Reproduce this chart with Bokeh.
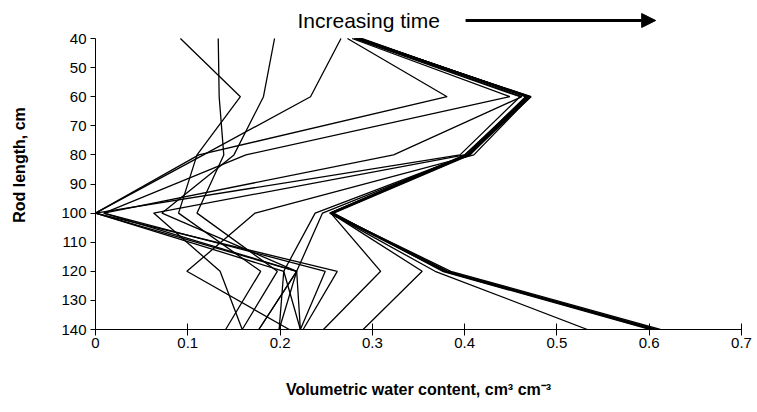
from bokeh.plotting import figure
from bokeh.models import Range1d, Label, Arrow, NormalHead, FixedTicker, NumeralTickFormatter
from bokeh.embed import file_html
from bokeh.resources import INLINE

# Rod lengths (cm) at which water content was measured
rod_length = [40, 60, 80, 100, 120, 140]

# Volumetric water content profiles (cm3 cm-3), one list per measurement time
t01 = [0.092, 0.157, 0.110, 0.090, 0.179, 0.141]
t02 = [0.133, 0.134, 0.139, 0.110, 0.197, 0.159]
t03 = [0.194, 0.182, 0.150, 0.072, 0.218, 0.199]
t04 = [0.266, 0.233, 0.117, 0.000, 0.218, 0.177]
t05 = [0.273, 0.381, 0.112, 0.000, 0.204, 0.199]
t06 = [0.278, 0.449, 0.163, 0.009, 0.249, 0.222]
t07 = [0.280, 0.460, 0.395, 0.000, 0.262, 0.225]
t08 = [0.282, 0.462, 0.323, 0.009, 0.218, 0.177]
t09 = [0.284, 0.470, 0.400, 0.063, 0.135, 0.159]
t10 = [0.286, 0.471, 0.410, 0.173, 0.099, 0.210]
t11 = [0.285, 0.469, 0.404, 0.238, 0.204, 0.222]
t12 = [0.287, 0.470, 0.403, 0.246, 0.218, 0.222]
t13 = [0.285, 0.468, 0.404, 0.255, 0.309, 0.247]
t14 = [0.287, 0.470, 0.403, 0.255, 0.354, 0.290]
t15 = [0.284, 0.467, 0.400, 0.254, 0.368, 0.533]
t16 = [0.283, 0.472, 0.405, 0.255, 0.385, 0.612]
t17 = [0.285, 0.470, 0.404, 0.256, 0.382, 0.608]
t18 = [0.287, 0.468, 0.403, 0.257, 0.380, 0.605]
t19 = [0.289, 0.466, 0.402, 0.254, 0.378, 0.603]
t20 = [0.281, 0.469, 0.406, 0.258, 0.376, 0.601]

profiles = [t01, t02, t03, t04, t05, t06, t07, t08, t09, t10,
            t11, t12, t13, t14, t15, t16, t17, t18, t19, t20]

x_ticks = [0, 0.1, 0.2, 0.3, 0.4, 0.5, 0.6, 0.7]
y_ticks = [40, 50, 60, 70, 80, 90, 100, 110, 120, 130, 140]

FONT = "Liberation Sans"

# The frame runs up to the top edge so the time note fits inside it;
# the left axis itself is bounded to 40-140 cm.
PX_PER_CM = 291 / 100.0
y_top = 40 - 38 / PX_PER_CM

p = figure(
    width=757, height=412,
    x_range=Range1d(0, 0.7), y_range=Range1d(140, y_top),
    output_backend="svg", toolbar_location=None,
    min_border_left=95, min_border_right=16,
    min_border_top=0, min_border_bottom=83,
)
p.outline_line_color = None
p.xgrid.visible = False
p.ygrid.visible = False
p.background_fill_color = "white"
p.border_fill_color = "white"

for prof in profiles:
    p.line(prof, rod_length, line_color="black", line_width=1.3)

# x axis
xa = p.xaxis[0]
xa.ticker = FixedTicker(ticks=x_ticks)
xa.formatter = NumeralTickFormatter(format="0.[0]")
xa.minor_tick_line_color = None
xa.major_tick_in = 6
xa.major_tick_out = 6
xa.major_label_standoff = 2
xa.axis_line_color = "black"
xa.major_tick_line_color = "black"
xa.major_label_text_font = FONT
xa.major_label_text_font_size = "15px"
xa.major_label_text_color = "black"
xa.axis_label = "Volumetric water content, cm\u00b3 cm\u207b\u00b3"
xa.axis_label_text_font = FONT
xa.axis_label_text_font_size = "16px"
xa.axis_label_text_font_style = "bold"
xa.axis_label_text_color = "black"
xa.axis_label_standoff = 30

# y axis
ya = p.yaxis[0]
ya.ticker = FixedTicker(ticks=y_ticks)
ya.bounds = (40, 140)
ya.minor_tick_line_color = None
ya.major_tick_in = 0
ya.major_tick_out = 5
ya.major_label_standoff = 4
ya.axis_line_color = "black"
ya.major_tick_line_color = "black"
ya.major_label_text_font = FONT
ya.major_label_text_font_size = "15px"
ya.major_label_text_color = "black"
ya.axis_label = "Rod length, cm"
ya.axis_label_text_font = FONT
ya.axis_label_text_font_size = "16px"
ya.axis_label_text_font_style = "bold"
ya.axis_label_text_color = "black"
ya.axis_label_standoff = 30

# time direction note above the profiles
note_y = 40 - 18 / PX_PER_CM
p.add_layout(Label(x=0.296, y=note_y, text="Increasing time", text_font=FONT,
                   text_font_size="21px", text_align="center",
                   text_baseline="middle", text_color="black"))
p.add_layout(Arrow(end=NormalHead(size=14, fill_color="black", line_color="black"),
                   x_start=0.401, y_start=note_y, x_end=0.607, y_end=note_y,
                   line_width=3, line_color="black"))

open("out.html", "w").write(file_html(p, INLINE))
